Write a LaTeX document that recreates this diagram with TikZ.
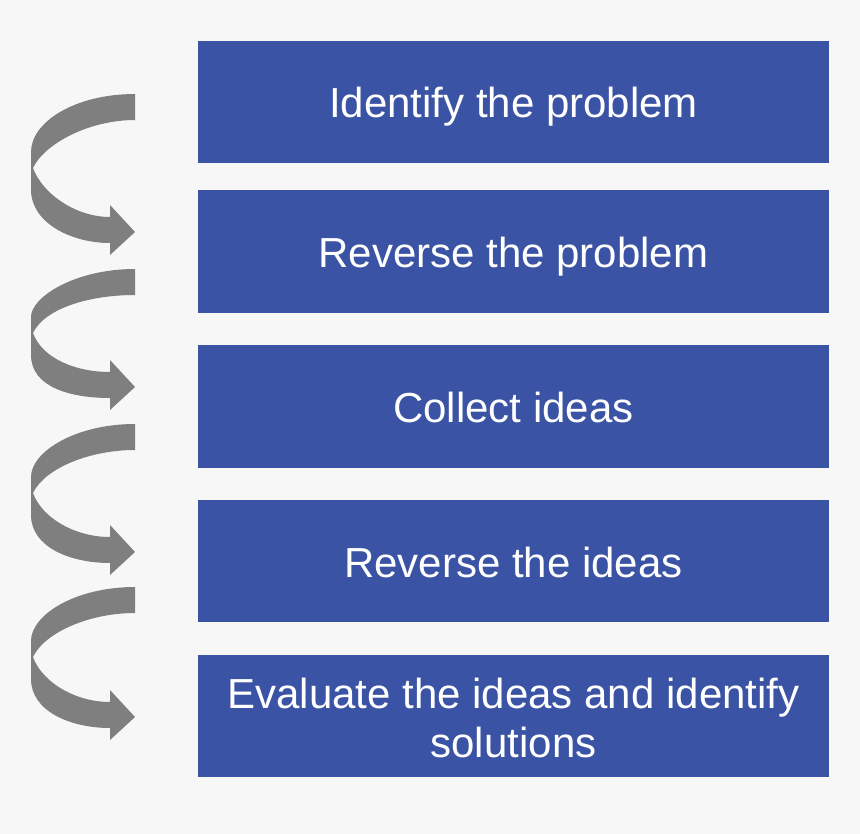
\documentclass[tikz,border=0pt]{standalone}
\usepackage{fontspec}
\setmainfont{Liberation Sans}
\definecolor{bgcol}{HTML}{F7F7F7}
\definecolor{boxblue}{HTML}{3B53A4}
\definecolor{arrowgray}{HTML}{7F7F7F}
\begin{document}
\begin{tikzpicture}[x=1pt,y=-1pt,
  stepbox/.style={rectangle, fill=boxblue, draw=none, inner sep=0pt,
    minimum width=631pt},
  lbl/.style={text=white, inner sep=0pt, anchor=base,
    font=\fontsize{42}{49}\selectfont},
  curlarrow/.style={fill=arrowgray, draw=none}]
\fill[bgcol] (0,0) rectangle (860,834);
\useasboundingbox (0,0) rectangle (860,834);

% boxes
\node[stepbox, minimum height=122pt] (b1) at (513.5,102) {};
\node[stepbox, minimum height=123pt] (b2) at (513.5,251.5) {};
\node[stepbox, minimum height=123pt] (b3) at (513.5,406.5) {};
\node[stepbox, minimum height=122pt] (b4) at (513.5,561) {};
\node[stepbox, minimum height=122pt] (b5) at (513.5,716) {};

% labels
\node[lbl] (t1) at (513.5,118) {Identify the problem};
\node[lbl] (t2) at (513.5,267.5) {Reverse the problem};
\node[lbl] (t3) at (513.5,422.5) {Collect ideas};
\node[lbl] (t4) at (513.5,577) {Reverse the ideas};
\node[lbl] (t5a) at (513.5,708) {Evaluate the ideas and identify};
\node[lbl] (t5b) at (513.5,757) {solutions};

% curled arrows
\foreach \T/\P in {94/232, 269/387, 424/552, 587/717}{
  \pgfmathsetmacro{\M}{(\T+\P)/2}
  \fill[curlarrow]
    (135,\T) .. controls (75,\T) and (31,{\T+28}) .. (31,{\M-11})
    -- (31,{\M+27})
    .. controls (31,{\M+59}) and (70,{\P+11}) .. (110,{\P+11})
    -- (110,{\P+23}) -- (135,\P) -- (110,{\P-27}) -- (110,{\P-15})
    .. controls (75,{\P-15}) and (42,{\M+30}) .. (33,{\M+5})
    .. controls (45,{\M-20}) and (90,{\T+26}) .. (135,{\T+26})
    -- cycle;
}
\end{tikzpicture}
\end{document}
